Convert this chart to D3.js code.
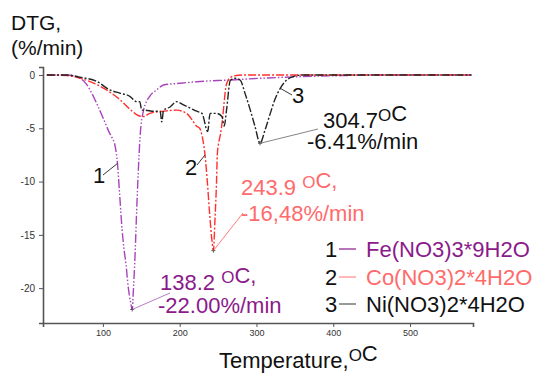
<!DOCTYPE html>
<html>
<head>
<meta charset="utf-8">
<script src="https://cdn.jsdelivr.net/npm/d3@7"></script>
<style>
  body { margin: 0; background: #fff; }
  svg text { font-family: "Liberation Sans", Arial, sans-serif; }
</style>
</head>
<body>
<div id="chart"></div>
<script>
// 数据：温度(°C) 与 DTG(%/min)
const feTemp = [27, 53, 70, 79, 85.5, 94, 103, 109, 112, 116, 119, 122, 125, 127.6, 130, 133, 136, 138.2, 139.7, 142, 144, 146, 148.4, 153, 161, 170, 179, 200, 222, 266, 305, 360, 410, 450, 580];
const feDtg = [0, 0, -0.3, -0.9, -1.7, -3.0, -4.5, -5.5, -5.9, -6.7, -8.3, -11.4, -14.5, -16.4, -17.7, -19.9, -21.3, -22.0, -20.2, -16.7, -12.7, -9.2, -5.8, -3.3, -2.0, -1.4, -0.94, -0.78, -0.63, -0.47, -0.31, -0.15, -0.06, 0, 0];

const coTemp = [27, 53, 70, 92, 109, 122, 135, 146, 153, 161, 179, 196, 209, 216, 222, 226, 230, 233, 236, 239, 242, 243.9, 246, 248, 249, 250.5, 253, 256, 258, 260, 263, 270, 285, 580];
const coDtg = [0, -0.05, -0.3, -0.9, -1.6, -2.3, -3.2, -3.8, -3.9, -3.6, -3.4, -3.3, -3.6, -4.2, -4.8, -5.0, -6.0, -7.5, -10, -13, -15.5, -16.48, -13.5, -10, -7.5, -6.5, -5.6, -4.0, -2.5, -1.2, -0.5, -0.1, 0, 0];

const niTemp = [27, 53, 70, 92, 109, 122, 135, 144, 148, 150.6, 155, 166, 174.5, 176.7, 179, 187.5, 196, 205, 213.5, 222, 229, 236.5, 239.6, 248, 255, 258, 261, 266, 272, 279, 285, 292, 298, 304.7, 311, 318, 324, 331, 339, 348, 360, 580];
const niDtg = [0, 0, -0.2, -0.6, -1.4, -1.7, -2.0, -2.5, -2.5, -3.3, -3.3, -3.4, -3.4, -4.4, -3.3, -3.0, -2.5, -2.8, -3.1, -3.4, -3.6, -5.3, -3.6, -3.6, -3.9, -4.8, -3.3, -0.5, -0.3, -0.5, -1.7, -3.3, -4.8, -6.41, -5.2, -3.6, -2.3, -1.25, -0.5, -0.15, 0, 0];

const xTicks = [100, 200, 300, 400, 500];
const yTicks = [0, -5, -10, -15, -20];
const legendNames = ["Fe(NO3)3*9H2O", "Co(NO3)2*4H2O", "Ni(NO3)2*4H2O"];

const width = 538, height = 373;
const svg = d3.select("#chart").append("svg")
  .attr("width", width).attr("height", height);

const x = d3.scaleLinear().domain([22, 582]).range([43, 473]);
const y = d3.scaleLinear().domain([-23.27, 0.75]).range([323, 67]);

// 坐标轴
const axisColor = "#555";
const gx = svg.append("g").attr("transform", "translate(0,323)");
gx.call(d3.axisBottom(x).tickValues(d3.range(40, 581, 20)).tickSize(3).tickFormat(""));
gx.call(d3.axisBottom(x).tickValues(xTicks).tickSize(4).tickPadding(3).tickFormat(d3.format("d")));
gx.selectAll("text").attr("font-size", 9).attr("fill", "#333");

const gy = svg.append("g").attr("transform", "translate(43,0)");
gy.call(d3.axisLeft(y).tickValues(d3.range(-23, 1, 1)).tickSize(2).tickFormat(""));
gy.call(d3.axisLeft(y).tickValues(yTicks).tickSize(4).tickPadding(4).tickFormat(d => d));
gy.selectAll("text").attr("font-size", 10).attr("fill", "#333");

svg.selectAll(".domain").attr("stroke", axisColor).attr("stroke-width", 1.6);
svg.selectAll(".tick line").attr("stroke", axisColor);

// 曲线
const series = [
  { t: feTemp, v: feDtg, color: "#a845bd", dash: "9,2,1.5,2,1.5,2" },
  { t: coTemp, v: coDtg, color: "#ff3030", dash: "8,2,2,2" },
  { t: niTemp, v: niDtg, color: "#222", dash: "8,2,2,2" }
];
const line = d3.line().x(d => x(d[0])).y(d => y(d[1])).curve(d3.curveMonotoneX);
series.forEach(s => {
  svg.append("path")
    .datum(s.t.map((t, i) => [t, s.v[i]]))
    .attr("fill", "none")
    .attr("stroke", s.color)
    .attr("stroke-width", 1.4)
    .attr("stroke-dasharray", s.dash)
    .attr("d", line);
});

// 极值点标记
[[138.2, -22.0], [243.9, -16.48], [304.7, -6.41]].forEach(p => {
  svg.append("path")
    .attr("d", `M${x(p[0]) - 2},${y(p[1])}h4M${x(p[0])},${y(p[1]) - 2}v4`)
    .attr("stroke", "#333").attr("stroke-width", 0.8);
});

// 引线
function leader(x1, y1, x2, y2, color) {
  svg.append("line").attr("x1", x1).attr("y1", y1).attr("x2", x2).attr("y2", y2)
    .attr("stroke", color).attr("stroke-width", 0.9);
}
leader(x(119), y(-8.3), 103, 175, "#222");
leader(x(233), y(-7.5), 197, 165, "#222");
leader(x(331), y(-1.25), 292, 95, "#222");
leader(x(304.7), y(-6.41), 318, 129, "#777");
leader(x(243.9), y(-16.48), 243, 213, "#ff6b6b");
leader(x(138.2), y(-22.0), 170, 293, "#b070c0");

// 文字，{ up: "O" } 为上标
function label(tx, ty, parts, color, size) {
  const t = svg.append("text").attr("x", tx).attr("y", ty)
    .attr("fill", color).attr("font-size", size || 22);
  parts.forEach(p => {
    if (typeof p === "object") {
      t.append("tspan").attr("font-size", 17).attr("dy", -7).text(p.up);
      t.append("tspan").attr("dy", 7).text("");
    } else {
      t.append("tspan").text(p);
    }
  });
  return t;
}

label(11, 30, ["DTG,"], "#111", 21);
label(11, 55, ["(%/min)"], "#111", 21);
label(219, 368, ["Temperature,", { up: "O" }, "C"], "#111", 22);

label(93, 183, ["1"], "#111");
label(185, 175, ["2"], "#111");
label(292, 103, ["3"], "#111");

label(323, 128, ["304.7", { up: "O" }, "C"], "#111");
label(307, 149, ["-6.41%/min"], "#111");
label(241, 195, ["243.9 ", { up: "O" }, "C,"], "#ff6b6b");
label(241, 221, ["-16,48%/min"], "#ff6b6b");
label(160, 290, ["138.2 ", { up: "O" }, "C,"], "#8b1a8b");
label(158, 313, ["-22.00%/min"], "#8b1a8b");

// 图例
const legendColors = ["#8b1a8b", "#ff6b6b", "#111"];
const legendLine = ["#8b1a8b", "#ff8a8a", "#555"];
const legendY = [257, 285, 312];
legendNames.forEach((name, i) => {
  label(325, legendY[i], [String(i + 1)], "#111");
  svg.append("line")
    .attr("x1", 339).attr("x2", 356)
    .attr("y1", legendY[i] - 8).attr("y2", legendY[i] - 8)
    .attr("stroke", legendLine[i]).attr("stroke-width", 1.2);
  label(366, legendY[i], [name], legendColors[i]);
});
</script>
</body>
</html>
